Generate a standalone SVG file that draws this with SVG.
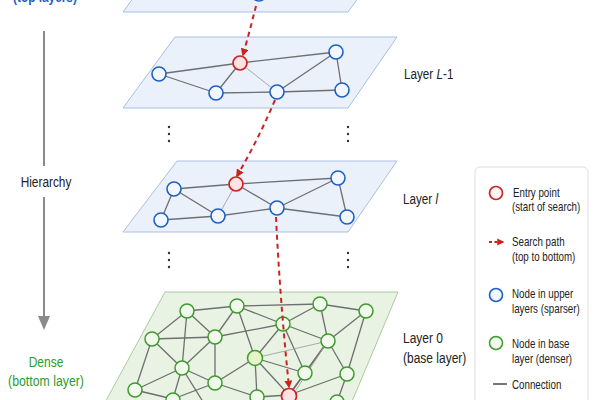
<svg xmlns="http://www.w3.org/2000/svg" width="600" height="400" viewBox="0 0 600 400">
<style>
.pl{fill:#eaf1fb;stroke:#a9bfe3;stroke-width:1}
.pg{fill:#e8f3e4;stroke:#a8cc9e;stroke-width:1}
.e{stroke:#6f6f6f;stroke-width:1.3;fill:none}
.e2{stroke:#a0a0a0;stroke-width:0.9;fill:none}
.nb{fill:#f2f6ff;stroke:#1d5fc4;stroke-width:1.6}
.ng{fill:#f1f9ec;stroke:#3f9a2e;stroke-width:1.5}
.nr{fill:#fde3e3;stroke:#cc2424;stroke-width:1.7}
.sp{stroke:#cc2222;stroke-width:2;stroke-dasharray:5 4;fill:none}
.t{font-family:"Liberation Sans",Arial,sans-serif;font-size:15px;fill:#222}
.lt{font-family:"Liberation Sans",Arial,sans-serif;font-size:13px;fill:#222}
.d{fill:#333}
</style>
<defs>
<marker id="ah" viewBox="0 0 10 10" refX="8" refY="5" markerWidth="4" markerHeight="4" orient="auto"><path d="M0,0 L10,5 L0,10 z" fill="#cc2222"/></marker>
</defs>
<rect width="600" height="400" fill="#ffffff"/>

<g id="left-axis">
<text class="t" transform="translate(45,2) scale(0.79,1)" text-anchor="middle" style="fill:#1d5fc4;font-weight:bold">(top layers)</text>
<line x1="44" y1="31" x2="44" y2="166" stroke="#8a8a8a" stroke-width="2"/>
<text class="t" transform="translate(46,187) scale(0.79,1)" text-anchor="middle">Hierarchy</text>
<line x1="44" y1="197" x2="44" y2="318" stroke="#8a8a8a" stroke-width="2"/>
<path d="M38,316 L50,316 L44,330 z" fill="#8a8a8a"/>
<text class="t" transform="translate(46,367) scale(0.8,1)" text-anchor="middle" style="fill:#2e9a2e">Dense</text>
<text class="t" transform="translate(46,386) scale(0.82,1)" text-anchor="middle" style="fill:#2e9a2e">(bottom layer)</text>
</g>

<g id="layer-top">
<polygon class="pl" points="175,-59 400,-59 348,12 123,12"/>
<circle class="nb" cx="259" cy="-6" r="7"/>
</g>

<g id="layer-L-1">
<polygon class="pl" points="175,37 397,37 348,108 123,108"/>
<line class="e" x1="159" y1="74" x2="240" y2="63"/>
<line class="e" x1="240" y1="63" x2="336" y2="52"/>
<line class="e" x1="159" y1="74" x2="216" y2="93"/>
<line class="e" x1="216" y1="93" x2="240" y2="63"/>
<line class="e2" x1="240" y1="63" x2="277" y2="92"/>
<line class="e" x1="216" y1="93" x2="277" y2="92"/>
<line class="e" x1="277" y1="92" x2="336" y2="52"/>
<line class="e" x1="277" y1="92" x2="342" y2="90"/>
<line class="e" x1="336" y1="52" x2="342" y2="90"/>
<circle class="nb" cx="159" cy="74" r="7"/>
<circle class="nr" cx="240" cy="63" r="7"/>
<circle class="nb" cx="336" cy="52" r="7"/>
<circle class="nb" cx="216" cy="93" r="7"/>
<circle class="nb" cx="277" cy="92" r="7"/>
<circle class="nb" cx="342" cy="90" r="7"/>
<text class="t" transform="translate(404,79) scale(0.78,1)">Layer <tspan font-style="italic">L</tspan>-1</text>
</g>

<g id="dots">
<circle class="d" cx="169" cy="127" r="1.2"/><circle class="d" cx="169" cy="134" r="1.2"/><circle class="d" cx="169" cy="141" r="1.2"/>
<circle class="d" cx="348" cy="127" r="1.2"/><circle class="d" cx="348" cy="134" r="1.2"/><circle class="d" cx="348" cy="141" r="1.2"/>
<circle class="d" cx="169" cy="253" r="1.2"/><circle class="d" cx="169" cy="260" r="1.2"/><circle class="d" cx="169" cy="267" r="1.2"/>
<circle class="d" cx="348" cy="253" r="1.2"/><circle class="d" cx="348" cy="260" r="1.2"/><circle class="d" cx="348" cy="267" r="1.2"/>
</g>

<g id="layer-l">
<polygon class="pl" points="177,161 397,161 348,232 123,232"/>
<line class="e" x1="174" y1="189" x2="236" y2="184"/>
<line class="e" x1="236" y1="184" x2="338" y2="178"/>
<line class="e" x1="174" y1="189" x2="161" y2="220"/>
<line class="e" x1="174" y1="189" x2="218" y2="216"/>
<line class="e2" x1="236" y1="184" x2="218" y2="216"/>
<line class="e" x1="236" y1="184" x2="277" y2="208"/>
<line class="e" x1="161" y1="220" x2="218" y2="216"/>
<line class="e" x1="218" y1="216" x2="277" y2="208"/>
<line class="e" x1="277" y1="208" x2="338" y2="178"/>
<line class="e" x1="277" y1="208" x2="347" y2="217"/>
<line class="e" x1="338" y1="178" x2="347" y2="217"/>
<circle class="nb" cx="174" cy="189" r="7"/>
<circle class="nr" cx="236" cy="184" r="7"/>
<circle class="nb" cx="338" cy="178" r="7"/>
<circle class="nb" cx="161" cy="220" r="7"/>
<circle class="nb" cx="218" cy="216" r="7"/>
<circle class="nb" cx="277" cy="208" r="7"/>
<circle class="nb" cx="347" cy="217" r="7"/>
<text class="t" transform="translate(403,204) scale(0.78,1)">Layer <tspan font-style="italic">l</tspan></text>
</g>

<g id="layer-0">
<polygon class="pg" points="165,292 398,292 340,430 90,430"/>
<g>
<line class="e" x1="187" y1="311" x2="237" y2="306"/>
<line class="e" x1="237" y1="306" x2="320" y2="304"/>
<line class="e" x1="320" y1="304" x2="366" y2="311"/>
<line class="e" x1="187" y1="311" x2="152" y2="339"/>
<line class="e" x1="187" y1="311" x2="215" y2="337"/>
<line class="e" x1="187" y1="311" x2="182" y2="368"/>
<line class="e" x1="237" y1="306" x2="215" y2="337"/>
<line class="e" x1="237" y1="306" x2="283" y2="324"/>
<line class="e" x1="237" y1="306" x2="255" y2="358"/>
<line class="e" x1="320" y1="304" x2="283" y2="324"/>
<line class="e" x1="320" y1="304" x2="328" y2="341"/>
<line class="e" x1="366" y1="311" x2="328" y2="341"/>
<line class="e" x1="366" y1="311" x2="347" y2="374"/>
<line class="e" x1="152" y1="339" x2="215" y2="337"/>
<line class="e" x1="152" y1="339" x2="182" y2="368"/>
<line class="e" x1="152" y1="339" x2="135" y2="390"/>
<line class="e" x1="215" y1="337" x2="283" y2="324"/>
<line class="e" x1="215" y1="337" x2="182" y2="368"/>
<line class="e" x1="215" y1="337" x2="215" y2="383"/>
<line class="e" x1="283" y1="324" x2="255" y2="358"/>
<line class="e" x1="283" y1="324" x2="328" y2="341"/>
<line class="e" x1="283" y1="324" x2="305" y2="373"/>
<line class="e2" x1="255" y1="358" x2="328" y2="341"/>
<line class="e" x1="255" y1="358" x2="305" y2="373"/>
<line class="e" x1="255" y1="358" x2="215" y2="383"/>
<line class="e" x1="255" y1="358" x2="257" y2="397"/>
<line class="e" x1="255" y1="358" x2="289" y2="395"/>
<line class="e" x1="328" y1="341" x2="305" y2="373"/>
<line class="e" x1="328" y1="341" x2="347" y2="374"/>
<line class="e" x1="328" y1="341" x2="289" y2="395"/>
<line class="e2" x1="328" y1="341" x2="296" y2="390"/>
<line class="e" x1="305" y1="373" x2="289" y2="395"/>
<line class="e" x1="347" y1="374" x2="289" y2="395"/>
<line class="e" x1="347" y1="374" x2="337" y2="402"/>
<line class="e" x1="182" y1="368" x2="215" y2="383"/>
<line class="e" x1="182" y1="368" x2="135" y2="390"/>
<line class="e" x1="182" y1="368" x2="173" y2="399"/>
<line class="e" x1="182" y1="368" x2="205" y2="405"/>
<line class="e" x1="215" y1="383" x2="257" y2="397"/>
<line class="e" x1="215" y1="383" x2="173" y2="399"/>
<line class="e" x1="135" y1="390" x2="173" y2="399"/>
<line class="e" x1="289" y1="395" x2="257" y2="397"/>
</g>
<circle class="ng" cx="187" cy="311" r="7"/>
<circle class="ng" cx="237" cy="306" r="7"/>
<circle class="ng" cx="320" cy="304" r="7"/>
<circle class="ng" cx="366" cy="311" r="7"/>
<circle class="ng" cx="152" cy="339" r="7"/>
<circle class="ng" cx="215" cy="337" r="7"/>
<circle class="ng" cx="283" cy="324" r="7"/>
<circle class="ng" cx="328" cy="341" r="7"/>
<circle class="ng" cx="255" cy="358" r="7.5" style="fill:#e6f4c8"/>
<circle class="ng" cx="182" cy="368" r="7"/>
<circle class="ng" cx="305" cy="373" r="7"/>
<circle class="ng" cx="347" cy="374" r="7"/>
<circle class="ng" cx="135" cy="390" r="7"/>
<circle class="ng" cx="215" cy="383" r="7"/>
<circle class="ng" cx="257" cy="397" r="7"/>
<circle class="ng" cx="173" cy="400" r="7"/>
<circle class="ng" cx="337" cy="402" r="7"/>
<circle class="nr" cx="289" cy="396" r="7.5"/>
<text class="t" transform="translate(403,343) scale(0.8,1)">Layer 0</text>
<text class="t" transform="translate(403,363) scale(0.8,1)">(base layer)</text>
</g>

<g id="search-path">
<path class="sp" d="M256,6 Q250,30 243,55" marker-end="url(#ah)"/>
<path class="sp" d="M275,100 Q258,140 237,176" marker-end="url(#ah)"/>
<path class="sp" d="M276,217 Q280,300 289,387" marker-end="url(#ah)"/>
</g>

<g id="legend">
<rect x="475" y="167" width="113" height="250" rx="5" fill="#ffffff" stroke="#dddddd" stroke-width="1"/>
<circle class="nr" cx="496" cy="193" r="6.5" style="fill:#fff5f5"/>
<text class="lt" transform="translate(513,197) scale(0.75,1)">Entry point</text>
<text class="lt" transform="translate(512,211) scale(0.75,1)">(start of search)</text>
<path class="sp" d="M489,242 L503,242" style="stroke-width:1.8;stroke-dasharray:3 2.5" marker-end="url(#ah)"/>
<text class="lt" transform="translate(512,246) scale(0.75,1)">Search path</text>
<text class="lt" transform="translate(512,261) scale(0.75,1)">(top to bottom)</text>
<circle class="nb" cx="496" cy="295" r="6.5"/>
<text class="lt" transform="translate(512,298) scale(0.75,1)">Node in upper</text>
<text class="lt" transform="translate(512,313) scale(0.75,1)">layers (sparser)</text>
<circle class="ng" cx="496" cy="343" r="6.5"/>
<text class="lt" transform="translate(512,348) scale(0.75,1)">Node in base</text>
<text class="lt" transform="translate(512,363) scale(0.75,1)">layer (denser)</text>
<line x1="493" y1="384" x2="507" y2="384" stroke="#666" stroke-width="1.8"/>
<text class="lt" transform="translate(512,389) scale(0.75,1)">Connection</text>
</g>
</svg>
